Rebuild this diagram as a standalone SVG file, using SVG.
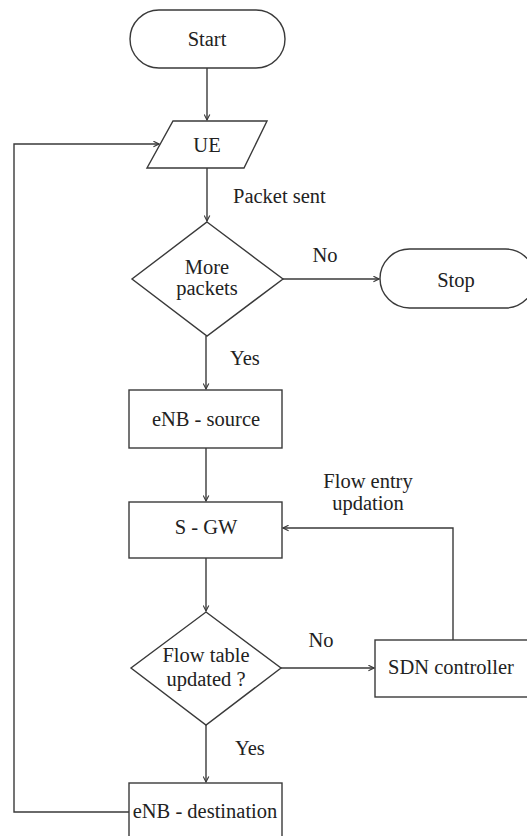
<svg xmlns="http://www.w3.org/2000/svg" width="527" height="836" viewBox="0 0 527 836" font-family="'Liberation Serif', 'DejaVu Serif', serif">
  <style>
    .shape { fill: #ffffff; stroke: #3a3a3a; stroke-width: 1.4; }
    .wire { fill: none; stroke: #3a3a3a; stroke-width: 1.4; }
    text { font-family: "Liberation Serif", "DejaVu Serif", serif; font-size: 20.5px; fill: #222222; }
    .c { text-anchor: middle; }
  </style>
  <defs>
    <marker id="arrow" viewBox="0 0 10 10" refX="9" refY="5" markerWidth="7" markerHeight="7" markerUnits="userSpaceOnUse" orient="auto">
      <path d="M1,1 L9,5 L1,9" fill="none" stroke="#3a3a3a" stroke-width="1.6"/>
    </marker>
  </defs>
  <rect width="527" height="836" fill="#ffffff"/>

  <g id="connectors">
    <line class="wire" x1="207" y1="68" x2="207" y2="120" marker-end="url(#arrow)"/>
    <line class="wire" x1="207" y1="168" x2="207" y2="221" marker-end="url(#arrow)"/>
    <line class="wire" x1="283" y1="279" x2="379" y2="279" marker-end="url(#arrow)"/>
    <line class="wire" x1="206" y1="336" x2="206" y2="389" marker-end="url(#arrow)"/>
    <line class="wire" x1="206" y1="448" x2="206" y2="501" marker-end="url(#arrow)"/>
    <line class="wire" x1="206" y1="558" x2="206" y2="611" marker-end="url(#arrow)"/>
    <line class="wire" x1="281" y1="668" x2="374" y2="668" marker-end="url(#arrow)"/>
    <line class="wire" x1="206" y1="725" x2="206" y2="782" marker-end="url(#arrow)"/>
    <polyline class="wire" points="453,640 453,528 283,528" marker-end="url(#arrow)"/>
    <polyline class="wire" points="130,812 14,812 14,144 159,144" marker-end="url(#arrow)"/>
  </g>

  <g id="start">
    <rect class="shape" x="130" y="10" width="155" height="58" rx="29" ry="29"/>
    <text class="c" x="207" y="46">Start</text>
  </g>

  <g id="ue">
    <polygon class="shape" points="173,121 267,121 244,168 147,168"/>
    <text class="c" x="207" y="152">UE</text>
  </g>

  <g id="packet-sent-label">
    <text x="233" y="203">Packet sent</text>
  </g>

  <g id="more-packets">
    <polygon class="shape" points="207,222 283,279 207,336 132,279"/>
    <text class="c" x="207" y="274">More</text>
    <text class="c" x="207" y="295">packets</text>
  </g>

  <g id="no-label-1">
    <text class="c" x="325" y="262">No</text>
  </g>

  <g id="stop">
    <rect class="shape" x="380" y="249" width="155" height="59" rx="29.5" ry="29.5"/>
    <text class="c" x="456" y="287">Stop</text>
  </g>

  <g id="yes-label-1">
    <text x="230" y="365">Yes</text>
  </g>

  <g id="enb-source">
    <rect class="shape" x="129" y="390" width="153" height="58"/>
    <text class="c" x="206" y="426">eNB - source</text>
  </g>

  <g id="flow-entry-label">
    <text class="c" x="368" y="488">Flow entry</text>
    <text class="c" x="368" y="510">updation</text>
  </g>

  <g id="s-gw">
    <rect class="shape" x="129" y="502" width="153" height="56"/>
    <text class="c" x="206" y="534">S - GW</text>
  </g>

  <g id="flow-table">
    <polygon class="shape" points="206,612 281,668 206,725 131,668"/>
    <text class="c" x="206" y="662">Flow table</text>
    <text class="c" x="206" y="686">updated ?</text>
  </g>

  <g id="no-label-2">
    <text class="c" x="321" y="647">No</text>
  </g>

  <g id="sdn-controller">
    <rect class="shape" x="375" y="640" width="155" height="57"/>
    <text class="c" x="451" y="674">SDN controller</text>
  </g>

  <g id="yes-label-2">
    <text x="235" y="755">Yes</text>
  </g>

  <g id="enb-destination">
    <rect class="shape" x="129" y="783" width="153" height="60"/>
    <text class="c" x="205" y="818">eNB - destination</text>
  </g>
</svg>
